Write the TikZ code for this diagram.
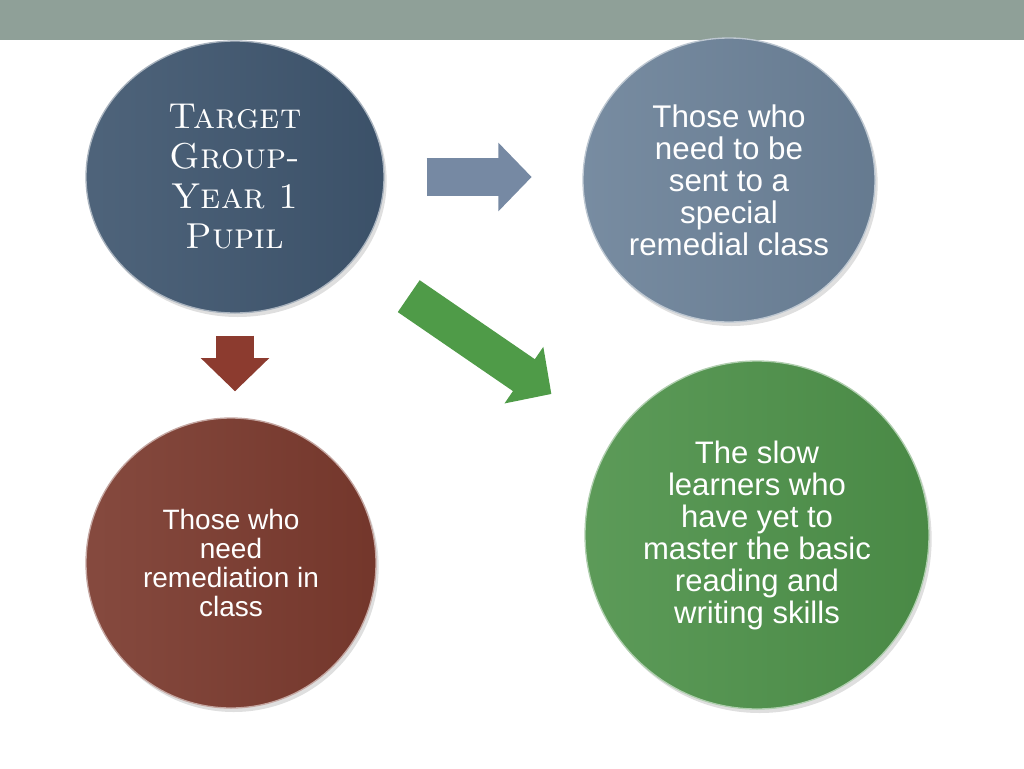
\documentclass[tikz,border=0pt]{standalone}
\usepackage{fontspec}
\newfontfamily\arialfont{Liberation Sans}
\usetikzlibrary{shapes.geometric,arrows.meta,shadows}
\definecolor{barcol}{HTML}{8FA098}
\definecolor{targetcol}{HTML}{3F566F}
\definecolor{specialcol}{HTML}{6C8299}
\definecolor{classcol}{HTML}{7B3A2E}
\definecolor{slowcol}{HTML}{4E924A}
\definecolor{bluearrow}{HTML}{7689A3}
\definecolor{redarrow}{HTML}{8C3B2F}
\definecolor{greenarrow}{HTML}{4F9B48}
\begin{document}
\begin{tikzpicture}[x=0.75pt,y=-0.75pt,
    disc/.style={ellipse,inner sep=0pt,align=center,text=white,
      left color=#1!92!white,right color=#1!94!black,
      draw=#1!45!white,line width=1pt,
      drop shadow={shadow xshift=2pt,shadow yshift=-3pt,opacity=0.25}},
    blockarrow/.style={draw=#1,line width=29pt,
      -{Triangle[length=25pt,width=50pt]}}]
  \useasboundingbox (0,0) rectangle (1024,768);
  \fill[barcol] (0,0) rectangle (1024,40);

  \node[disc=targetcol,minimum width=223.5pt,minimum height=204pt,
    font=\scshape\fontsize{27}{30}\selectfont] (target) at (235,177)
    {Target\\Group-\\Year 1\\Pupil};
  \node[disc=specialcol,minimum width=219pt,minimum height=213pt,
    font=\arialfont\fontsize{23.5}{24}\selectfont] (special) at (729,180)
    {Those who\\need to be\\sent to a\\special\\remedial class};
  \node[disc=classcol,minimum width=217.5pt,minimum height=217.5pt,
    font=\arialfont\fontsize{21}{21.75}\selectfont] (inclass) at (231,563)
    {Those who\\need\\remediation in\\class};
  \node[disc=slowcol,minimum width=258pt,minimum height=261pt,
    font=\arialfont\fontsize{23.3}{24}\selectfont] (slow) at (757,535)
    {The slow\\learners who\\have yet to\\master the basic\\reading and\\writing skills};

  \draw[blockarrow=bluearrow,shorten <=31.5pt,shorten >=38pt]
    (target.east) -- (target.east -| special.west);
  \draw[blockarrow=redarrow,shorten <=16.5pt,shorten >=19.5pt]
    (target.south) -- (target.south |- inclass.north);
  \draw[blockarrow=greenarrow,shorten <=158pt,shorten >=187pt]
    (target.center) -- (slow.center);
\end{tikzpicture}
\end{document}
